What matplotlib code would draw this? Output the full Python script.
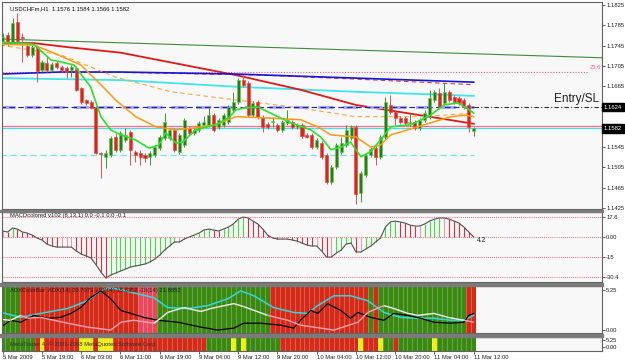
import numpy as np
import matplotlib
matplotlib.use("Agg")
import matplotlib.pyplot as plt
import matplotlib.transforms as mtransforms
from matplotlib.patches import Rectangle
from matplotlib.collections import LineCollection

plt.rcParams['font.family'] = ['Liberation Sans', 'DejaVu Sans']

W, H = 625, 361

# ---------------- price data (USDCHFm, H1) ----------------
opens = [1.1750, 1.1766, 1.1752, 1.1792, 1.1762, 1.1744, 1.1727, 1.1742, 1.1697, 1.1711,
         1.1697, 1.1711, 1.1703, 1.1701, 1.1697, 1.1701, 1.1662, 1.1638, 1.1634, 1.1624,
         1.1534, 1.1526, 1.1530, 1.1565, 1.1540, 1.1559, 1.1575, 1.1536, 1.1534, 1.1530,
         1.1526, 1.1530, 1.1543, 1.1563, 1.1563, 1.1579, 1.1536, 1.1549, 1.1583, 1.1573,
         1.1579, 1.1589, 1.1589, 1.1608, 1.1585, 1.1589, 1.1595, 1.1618, 1.1634, 1.1677,
         1.1671, 1.1608, 1.1634, 1.1605, 1.1591, 1.1595, 1.1589, 1.1579, 1.1593, 1.1595,
         1.1585, 1.1589, 1.1569, 1.1569, 1.1545, 1.1553, 1.1530, 1.1476, 1.1506, 1.1536,
         1.1549, 1.1563, 1.1585, 1.1455, 1.1490, 1.1530, 1.1543, 1.1526, 1.1565, 1.1628,
         1.1614, 1.1603, 1.1603, 1.1593, 1.1595, 1.1583, 1.1599, 1.1605, 1.1638, 1.1652,
         1.1632, 1.1654, 1.1644, 1.1642, 1.1638, 1.1628, 1.1576]
highs = [1.1770, 1.1772, 1.1800, 1.1809, 1.1770, 1.1748, 1.1746, 1.1746, 1.1717, 1.1723,
         1.1713, 1.1715, 1.1707, 1.1705, 1.1707, 1.1705, 1.1664, 1.1640, 1.1638, 1.1626,
         1.1536, 1.1540, 1.1567, 1.1573, 1.1577, 1.1583, 1.1579, 1.1540, 1.1540, 1.1534,
         1.1538, 1.1549, 1.1569, 1.1612, 1.1583, 1.1583, 1.1573, 1.1603, 1.1587, 1.1583,
         1.1597, 1.1607, 1.1622, 1.1612, 1.1603, 1.1612, 1.1628, 1.1654, 1.1681, 1.1687,
         1.1675, 1.1636, 1.1638, 1.1608, 1.1595, 1.1605, 1.1593, 1.1599, 1.1618, 1.1599,
         1.1593, 1.1593, 1.1573, 1.1573, 1.1563, 1.1557, 1.1534, 1.1510, 1.1553, 1.1565,
         1.1589, 1.1589, 1.1589, 1.1498, 1.1534, 1.1545, 1.1547, 1.1569, 1.1644, 1.1648,
         1.1618, 1.1607, 1.1607, 1.1612, 1.1599, 1.1603, 1.1618, 1.1658, 1.1658, 1.1662,
         1.1671, 1.1658, 1.1648, 1.1646, 1.1642, 1.1632, 1.1584]
lows = [1.1746, 1.1744, 1.1748, 1.1750, 1.1713, 1.1723, 1.1723, 1.1673, 1.1693, 1.1693,
        1.1693, 1.1699, 1.1693, 1.1681, 1.1683, 1.1656, 1.1630, 1.1628, 1.1620, 1.1532,
        1.1484, 1.1504, 1.1526, 1.1536, 1.1536, 1.1555, 1.1510, 1.1516, 1.1510, 1.1516,
        1.1510, 1.1526, 1.1540, 1.1559, 1.1559, 1.1536, 1.1532, 1.1545, 1.1569, 1.1569,
        1.1575, 1.1585, 1.1585, 1.1575, 1.1581, 1.1585, 1.1591, 1.1614, 1.1630, 1.1664,
        1.1605, 1.1605, 1.1601, 1.1575, 1.1581, 1.1585, 1.1575, 1.1575, 1.1589, 1.1581,
        1.1581, 1.1563, 1.1563, 1.1541, 1.1541, 1.1522, 1.1473, 1.1473, 1.1502, 1.1532,
        1.1545, 1.1559, 1.1433, 1.1437, 1.1486, 1.1526, 1.1510, 1.1522, 1.1561, 1.1610,
        1.1589, 1.1591, 1.1589, 1.1587, 1.1579, 1.1579, 1.1595, 1.1601, 1.1634, 1.1620,
        1.1628, 1.1634, 1.1630, 1.1628, 1.1620, 1.1575, 1.1566]
closes = [1.1762, 1.1748, 1.1790, 1.1754, 1.1760, 1.1727, 1.1742, 1.1695, 1.1713, 1.1697,
          1.1709, 1.1703, 1.1697, 1.1693, 1.1703, 1.1658, 1.1634, 1.1632, 1.1622, 1.1534,
          1.1532, 1.1534, 1.1563, 1.1540, 1.1573, 1.1569, 1.1540, 1.1530, 1.1526, 1.1524,
          1.1534, 1.1545, 1.1565, 1.1595, 1.1579, 1.1540, 1.1569, 1.1599, 1.1573, 1.1579,
          1.1593, 1.1595, 1.1608, 1.1579, 1.1599, 1.1608, 1.1624, 1.1634, 1.1677, 1.1668,
          1.1608, 1.1632, 1.1605, 1.1585, 1.1585, 1.1597, 1.1579, 1.1595, 1.1599, 1.1585,
          1.1589, 1.1567, 1.1565, 1.1545, 1.1559, 1.1526, 1.1476, 1.1506, 1.1549, 1.1553,
          1.1579, 1.1585, 1.1453, 1.1494, 1.1530, 1.1540, 1.1526, 1.1565, 1.1634, 1.1614,
          1.1603, 1.1595, 1.1593, 1.1595, 1.1583, 1.1599, 1.1612, 1.1642, 1.1654, 1.1624,
          1.1654, 1.1638, 1.1634, 1.1632, 1.1624, 1.1585, 1.1582]

time_labels = ['5 Mar 2009', '5 Mar 19:00', '6 Mar 03:00', '6 Mar 11:00', '6 Mar 19:00',
               '9 Mar 04:00', '9 Mar 12:00', '9 Mar 20:00', '10 Mar 04:00', '10 Mar 12:00',
               '10 Mar 20:00', '11 Mar 04:00', '11 Mar 12:00']
time_label_bars = [0, 8, 16, 24, 32, 40, 48, 56, 64, 72, 80, 88, 96]

# indicator lines on the price chart (bar index, price)
trend_x = [-0.5, 122.5]
trend_y = [1.1758, 1.1721]
fib236 = 1.1693
blue_x = [-0.4, 11.8, 24.1, 47.5, 72, 96]
blue_y = [1.1689, 1.1693, 1.1693, 1.1689, 1.1681, 1.1673]
reddash_x = [20, 52.6, 72, 96]
reddash_y = [1.1693, 1.1687, 1.1679, 1.1668]
red_x = [-0.4, 6.3, 13.25, 24.1, 47.5, 60.7, 72, 96]
red_y = [1.1750, 1.1750, 1.1742, 1.1731, 1.1687, 1.1658, 1.1628, 1.1591]
cyan_x = [-0.4, 24.1, 47.5, 72, 96]
cyan_y = [1.1681, 1.1677, 1.1664, 1.1654, 1.1646]
orange_dash_x = [-0.4, 11.8, 23, 34.3, 47.5, 60.7, 72, 85.2, 96]
orange_dash_y = [1.1746, 1.1727, 1.1683, 1.1654, 1.1638, 1.1622, 1.1605, 1.1605, 1.1612]
orange_x = [-0.4, 6.3, 9.8, 15.9, 20, 23, 27.1, 31.2, 35.3, 39.3, 43.4, 47.5, 52.6,
            60.7, 64.2, 66.9, 72, 75, 77, 79.1, 84.6, 91.3, 94.4, 96]
orange_y = [1.1748, 1.1746, 1.1733, 1.1707, 1.1668, 1.1638, 1.1605, 1.1585, 1.1579, 1.1583,
            1.1589, 1.1605, 1.1603, 1.1599, 1.1585, 1.1569, 1.1565, 1.1545, 1.1549, 1.1569,
            1.1585, 1.1605, 1.1608, 1.1605]
green_x = [-0.4, 6.3, 9.8, 14.5, 17.9, 20, 22, 24.1, 27.1, 29.8, 31.8, 33.2, 35.3, 36.7,
           39.3, 43.4, 46.1, 47.5, 49.1, 52, 54.6, 58.7, 62.8, 64.8, 66.9, 68.9, 70.9, 73,
           75, 77, 79.1, 83.2, 87.2, 89.9, 92.7, 94.6, 96]
green_y = [1.1752, 1.1748, 1.1717, 1.1707, 1.1664, 1.1605, 1.1579, 1.1569, 1.1559, 1.1543,
           1.1549, 1.1573, 1.1553, 1.1555, 1.1579, 1.1589, 1.1603, 1.1618, 1.1622, 1.1624,
           1.1612, 1.1593, 1.1579, 1.1565, 1.1540, 1.1545, 1.1555, 1.1526, 1.1536, 1.1559,
           1.1585, 1.1589, 1.1608, 1.1628, 1.1632, 1.1622, 1.1612]
entry_sl = 1.1624
pink_level = 1.1587
bid = 1.1582
cyan_dash_level = 1.1530

# MACD colored
macd = [4.7, 4.0, 7.0, 6.2, 4.0, 3.2, 1.7, -0.5, -2.0, -5.0,
        -6.5, -7.3, -7.3, -7.3, -7.3, -10.3, -12.5, -14.0, -15.5, -20.5,
        -26.0, -30.5, -28.3, -26.8, -25.3, -23.8, -22.3, -21.5, -20.8, -20.0,
        -18.5, -16.3, -13.3, -9.5, -6.5, -3.5, -3.5, -1.3, 0.2, 1.7,
        3.2, 5.5, 6.2, 5.5, 4.7, 6.2, 7.7, 10.0, 13.7, 15.2,
        14.5, 12.2, 10.0, 6.2, 1.7, -0.5, -1.3, -1.3, -1.3, -2.0,
        -2.8, -4.3, -5.8, -6.5, -6.5, -10.3, -14.8, -14.8, -11.8, -9.5,
        -5.0, -4.3, -11.0, -11.0, -8.8, -6.5, -3.5, -0.5, 7.7, 11.5,
        12.2, 11.5, 10.7, 9.2, 8.5, 8.5, 10.0, 12.2, 13.7, 14.5,
        14.5, 13.7, 12.2, 10.7, 7.7, 4.0, 0.2]
macd_levels = [15, 0, -15, -30]

# ADX color bar (g = up, r = down, p = weak down)
adx_trend = 'g' * 4 + 'r' * 24 + 'p' * 4 + 'g' * 23 + 'r' * 20 + 'g' + 'r' + 'g' * 18 + 'r' * 2
adx_x = [-0.4, 3.7, 7.7, 13.2, 17.3, 20, 21.4, 23.4, 26.7, 30.8, 33.6, 37.7, 41.8, 45.9, 48.5,
         51.2, 55.2, 59.3, 62.2, 64.2, 67.5, 70.9, 74.4, 77.7, 81.1, 84.6, 87.9, 91.3, 94, 96]
adx_y = [21, 16, 20, 25, 33, 43, 46, 45, 41, 36, 26, 25, 28, 35, 43,
         38, 26, 21, 20, 28, 38, 38, 33, 21, 16, 15, 15, 13, 13, 18]
dim_x = [-0.4, 1.6, 3.7, 6.3, 9.2, 11.8, 13.9, 15.9, 17.9, 20, 22, 24.1, 26.1, 28.7, 31.6,
         35.7, 40.4, 43.8, 47.1, 49.1, 52.6, 56.7, 59.3, 60.7, 62.8, 64.2, 66.2, 68.9, 70.9,
         72.4, 75, 77.7, 79.7, 82.6, 85.2, 87.9, 91.3, 94, 95, 96]
dim_y = [6, 13, 11, 18, 15, 16, 20, 26, 36, 43, 35, 23, 20, 16, 13,
         11, 6, 3, 5, 10, 10, 8, 5, 13, 23, 20, 30, 23, 15,
         21, 16, 13, 20, 18, 15, 11, 10, 11, 18, 20]
dip_x = [-0.4, 1.6, 3.7, 5.1, 7.7, 13.2, 17.3, 22, 24.1, 26.7, 30.8, 32.2, 33.6, 36.9, 40.4,
         42.4, 47.1, 49.1, 54, 58.1, 60.7, 67.5, 72.4, 74.4, 77.7, 79.7, 82.6, 84.6, 87.9,
         90.7, 94, 96]
dip_y = [14, 13, 18, 15, 16, 10, 6, 3, 11, 13, 10, 15, 21, 26, 22,
         25, 30, 27, 18, 13, 8, 3, 11, 21, 28, 25, 20, 18, 20,
         16, 13, 11]

# bottom info bar (g = green, r = red, y = yellow)
info_trend = ('g' * 7 + 'r' + 'y' + 'r' * 7 + 'y' * 3 + 'r' + 'y' * 3 + 'r' * 19 + 'g' * 5 +
              'y' + 'g' + 'y' + 'g' * 7 + 'r' * 16 + 'y' + 'r' * 3 + 'y' + 'g' * 2 + 'r' +
              'g' * 7 + 'y' + 'g' * 8)

n = len(closes)
idx = np.arange(n)
XL = (-0.15, 122.15)


def rect(l, t, r, b):
    return [l / W, 1 - b / H, (r - l) / W, (b - t) / H]


fig = plt.figure(figsize=(W / 100, H / 100), dpi=100, facecolor='white')
bg = '#f8f8f8'
fs = 4.2

ax = fig.add_axes(rect(2, 2, 602, 209), facecolor=bg)
axm = fig.add_axes(rect(2, 212, 602, 282), facecolor=bg)
axa = fig.add_axes(rect(2, 286, 602, 333), facecolor=bg)
axb = fig.add_axes(rect(2, 337, 602, 351), facecolor=bg)

for a in (ax, axm, axa, axb):
    a.set_xlim(*XL)
    a.set_xticks([])
    a.yaxis.tick_right()
    a.tick_params(axis='y', length=2, width=0.5, pad=1, labelsize=fs, colors='#202020')
    for s in a.spines.values():
        s.set_color('#606060')
        s.set_linewidth(0.8)

# ---- main price panel ----
ax.set_ylim(1.1423, 1.1831)
ticks = [1.1425, 1.1465, 1.1505, 1.1545, 1.1665, 1.1705, 1.1745, 1.1785, 1.1825]
ax.set_yticks(ticks)
ax.set_yticklabels(['%.4f' % t for t in ticks])

ax.plot(trend_x, trend_y, color='#3f8a3f', lw=0.8)
ax.plot([-0.5, 119.5], [fib236, fib236], color='#ff5a8a', lw=0.8, ls=(0, (1, 1.5)))
ax.text(119.7, fib236 + 0.0003, '23.6', color='#ff5a8a', fontsize=fs, va='bottom', ha='left')
ax.plot(cyan_x, cyan_y, color='#3fe6ea', lw=1.3)
ax.plot(red_x, red_y, color='#e01818', lw=1.3)
ax.plot(reddash_x, reddash_y, color='#e83838', lw=0.8, ls=(0, (4, 3)))
ax.plot(blue_x, blue_y, color='#1515d8', lw=1.2)
ax.plot(orange_dash_x, orange_dash_y, color='#f5a845', lw=0.8, ls=(0, (4, 3)))

ax.plot([-0.5, 96], [entry_sl, entry_sl], color='#a8a8f0', lw=2.2, ls=(0, (5, 3)))
ax.plot([-0.5, 96], [entry_sl, entry_sl], color='#2020a0', lw=0.8, ls=(0, (5, 3)))
ax.plot([96, 123], [entry_sl, entry_sl], color='#303030', lw=0.8, ls=(0, (4, 2, 1, 2)))
ax.axhline(pink_level, color='#ff6f8f', lw=0.9)
ax.axhline(bid, color='#45e0e8', lw=0.9)
ax.plot([-0.5, 96], [cyan_dash_level, cyan_dash_level], color='#70e8e8', lw=0.9, ls=(0, (5, 3)))

o = np.array(opens); c = np.array(closes); h = np.array(highs); lo = np.array(lows)
up = c >= o
ax.vlines(idx[up], lo[up], h[up], color='#3a9a2a', lw=0.7, zorder=3)
ax.vlines(idx[~up], lo[~up], h[~up], color='#e85050', lw=0.7, zorder=3)
ax.bar(idx[up], c[up] - o[up] + 0.00003, bottom=o[up], width=0.62, color='#2e7a1e',
       edgecolor='#60d048', linewidth=0.4, zorder=4)
ax.bar(idx[~up], o[~up] - c[~up] + 0.00003, bottom=c[~up], width=0.62, color='#d42a1a',
       edgecolor='#e84040', linewidth=0.4, zorder=4)

ax.plot(orange_x, orange_y, color='#ff9a10', lw=1.1, zorder=5)
ax.plot(green_x, green_y, color='#2ee02e', lw=1.2, zorder=5)

ax.text(1.5, 1.1818, 'USDCHFm,H1  1.1576 1.1584 1.1566 1.1582', fontsize=fs,
        color='#101010', va='center', ha='left')
ax.text(112.4, 1.1639, 'Entry/SL', fontsize=8.5, color='#202020', va='center', ha='left')

tr = mtransforms.blended_transform_factory(ax.transAxes, ax.transData)
for val in (entry_sl, bid):
    ax.text(1.003, val, '%.4f' % val, transform=tr, fontsize=fs, color='white',
            va='center', ha='left', clip_on=False,
            bbox=dict(boxstyle='square,pad=0.3', fc='black', ec='black'))

# ---- MACD panel ----
axm.set_ylim(-33.5, 19.0)
mv = np.array(macd)
diff = np.diff(mv, prepend=mv[0])
cols = []
for d in diff:
    if d > 0.6:
        cols.append('#40e040')
    elif d > 0:
        cols.append('#a6f0a0')
    elif d > -0.6:
        cols.append('#f49aa8')
    else:
        cols.append('#e8283c')
axm.vlines(idx, 0, mv, colors=cols, lw=0.8)
axm.plot(idx, mv, color='#505050', lw=0.8)
for lv in macd_levels:
    axm.axhline(lv, color='#ff3050', lw=0.6, ls=(0, (1, 1.5)))
axm.set_yticks(macd_levels)
axm.set_yticklabels(['17.6', '0.00', '-15', '-30.4'])
axm.text(1.5, 16.5, 'MACDcolored v102 (8,13,1) 0.0 -0.1 0.0 -0.1', fontsize=fs,
         color='#202020', va='center')
axm.text(96.6, -2.2, '4.2', fontsize=fs + 0.6, color='#202020', va='center')

# ---- ADX color bar ----
axa.set_ylim(0, 48)
cmap_adx = {'g': '#3a8a12', 'r': '#d42a18', 'p': '#e8485a'}
axa.bar(idx, 48, width=1.0, color=[cmap_adx[k] for k in adx_trend], linewidth=0)
axa.vlines(idx + 0.5, 0, 48, color='white', lw=0.5, alpha=0.35)
axa.plot(adx_x, adx_y, color='#30d8e0', lw=1.1)
axa.plot(dim_x, dim_y, color='black', lw=0.9)
segs = [[(dip_x[k], dip_y[k]), (dip_x[k + 1], dip_y[k + 1])] for k in range(len(dip_x) - 1)]
seg_cols = []
for k in range(len(dip_x) - 1):
    b = int(round((dip_x[k] + dip_x[k + 1]) / 2))
    b = min(max(b, 0), n - 1)
    seg_cols.append('#f0f0f0' if adx_trend[b] == 'g' else '#ffa0b4')
axa.add_collection(LineCollection(segs, colors=seg_cols, linewidths=1.0))
axa.set_yticks([44, 3])
axa.set_yticklabels(['5.25', '0.00'])
axa.text(1.5, 43, 'ADXColorBar  ADX(14) 20.7073 +DI(14) 15.6352 -DI(14) 21.8852',
         fontsize=fs, color='#202020', va='center')

# ---- bottom info bar ----
axb.set_ylim(0, 1)
cmap_info = {'g': '#3a8a12', 'r': '#d42a18', 'y': '#f0f010'}
axb.bar(idx, 1, width=1.0, color=[cmap_info[k] for k in info_trend], linewidth=0)
axb.vlines(idx + 0.5, 0, 1, color='white', lw=0.5, alpha=0.35)
axb.set_yticks([0.79, 0.29])
axb.set_yticklabels(['5.25', '0.00'])
axb.text(1.5, 0.5, 'MetaTrader 4, \u00a9 2001-2008 MetaQuotes Software Corp.', fontsize=fs,
         color='#303030', va='center')

axb.set_xticks(time_label_bars)
axb.set_xticklabels(time_labels)
axb.tick_params(axis='x', length=2, width=0.5, pad=1, labelsize=fs, colors='#202020')
for lab in axb.get_xticklabels():
    lab.set_ha('left')

# window separators
for t, hh in ((209.5, 2.5), (282.5, 3.0), (333.5, 3.0)):
    fig.patches.append(Rectangle((0, 1 - (t + hh) / H), 603 / W, hh / H,
                                 transform=fig.transFigure, color='#7a7a7a'))

fig.savefig('out.png', dpi=100, facecolor='white')
